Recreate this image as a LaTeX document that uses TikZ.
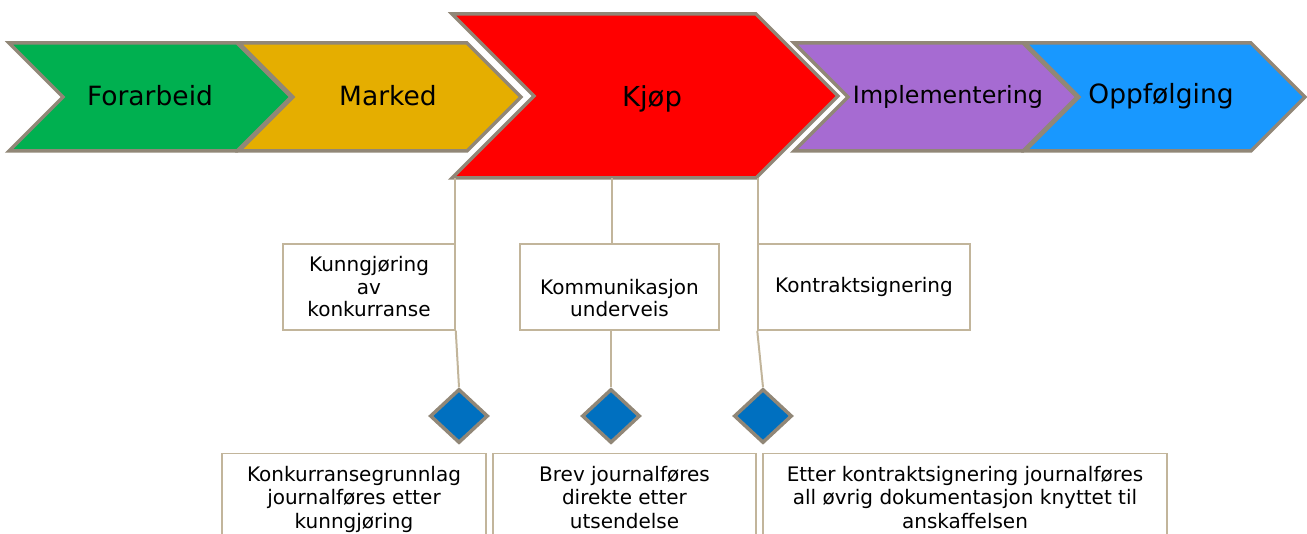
\documentclass[tikz,border=0pt]{standalone}
\usepackage{fontspec}
\setmainfont{DejaVu Sans}
\usetikzlibrary{shapes.geometric,calc}

\definecolor{cgreen}{HTML}{00B050}
\definecolor{cgold}{HTML}{E5AE00}
\definecolor{cred}{HTML}{FF0000}
\definecolor{cpurple}{HTML}{A66BD2}
\definecolor{cblue}{HTML}{1898FF}
\definecolor{cmarker}{HTML}{0070C0}
\definecolor{crim}{HTML}{918777}
\definecolor{cline}{HTML}{C2B59B}

\begin{document}
\begin{tikzpicture}[x=1pt,y=-1pt,
    chev/.style={draw=crim,line width=3.5pt,line join=miter},
    phase text/.style={anchor=base,font=\fontsize{26.5}{30}\selectfont},
    box/.style={draw=cline,line width=1.5pt,fill=white,inner sep=0pt,align=center,
      font=\fontsize{20}{22.5}\selectfont},
    box text/.style={align=center,inner sep=0pt,font=\fontsize{20}{23.5}\selectfont},
    milestone/.style={diamond,draw=crim,line width=3.5pt,fill=cmarker,
      minimum width=58pt,minimum height=54pt,inner sep=0pt},
    link/.style={draw=cline,line width=2pt}]
  \useasboundingbox (0,0) rectangle (1307,534);

  % phases
  \draw[chev, fill=cgreen] (9,43) -- (237,43) -- (291,97) -- (237,151) -- (9,151) -- (63,97) -- cycle;
  \draw[chev, fill=cgold] (239,43) -- (467,43) -- (521,97) -- (467,151) -- (239,151) -- (293,97) -- cycle;
  \draw[chev, fill=cpurple] (794,43) -- (1023,43) -- (1077,97) -- (1023,151) -- (794,151) -- (848,97) -- cycle;
  \draw[chev, fill=cblue] (1025,43) -- (1251,43) -- (1305,97) -- (1251,151) -- (1025,151) -- (1079,97) -- cycle;
  \draw[chev, fill=cred] (452,14) -- (756,14) -- (838,96) -- (756,178) -- (452,178) -- (534,96) -- cycle;

  \node[phase text] (forarbeid) at (150,106) {Forarbeid};
  \node[phase text] (marked) at (388,106) {Marked};
  \node[phase text, font=\fontsize{27.5}{30}\selectfont] (kjop) at (652,107) {Kjøp};
  \node[phase text, font=\fontsize{23.8}{28}\selectfont] (impl) at (948,104) {Implementering};
  \node[phase text] (oppf) at (1161,104) {Oppfølging};

  \coordinate (r1) at (455,178);
  \coordinate (r2) at (612,178);
  \coordinate (r3) at (758,178);

  % events
  \node[box, minimum width=172pt, minimum height=86pt] (ka) at (369,287) {Kunngjøring\\av\\konkurranse};
  \node[box, minimum width=199pt, minimum height=86pt,
    label={[box text,font=\fontsize{20}{22.5}\selectfont,yshift=-11pt]center:Kommunikasjon\\underveis}] (kb) at (619.5,287) {};
  \node[box, minimum width=212pt, minimum height=86pt] (kc) at (864,287) {Kontraktsignering};

  % milestones
  \node[milestone] (da) at (459,416) {};
  \node[milestone] (db) at (611,416) {};
  \node[milestone] (dc) at (763,416) {};

  % records
  \node[box, anchor=north, minimum width=264pt, minimum height=130pt,
    label={[box text,anchor=north,yshift=-13pt]north:Konkurransegrunnlag\\journalføres etter\\kunngjøring}] (ja) at (354,453) {};
  \node[box, anchor=north, minimum width=263pt, minimum height=130pt,
    label={[box text,anchor=north,yshift=-13pt]north:Brev journalføres\\direkte etter\\utsendelse}] (jb) at (624.5,453) {};
  \node[box, anchor=north, minimum width=404pt, minimum height=130pt,
    label={[box text,anchor=north,yshift=-13pt]north:Etter kontraktsignering journalføres\\all øvrig dokumentasjon knyttet til\\anskaffelsen}] (jc) at (965,453) {};

  \draw[link] (r1) -- (r1 |- ka.north);
  \draw[link] (r2) -- (r2 |- kb.north);
  \draw[link] (r3) -- (r3 |- kc.north);
  \draw[link] (ka.south east) -- (da.north);
  \draw[link] (db.north |- kb.south) -- (db.north);
  \draw[link] (kc.south west) -- (dc.north);
\end{tikzpicture}
\end{document}
